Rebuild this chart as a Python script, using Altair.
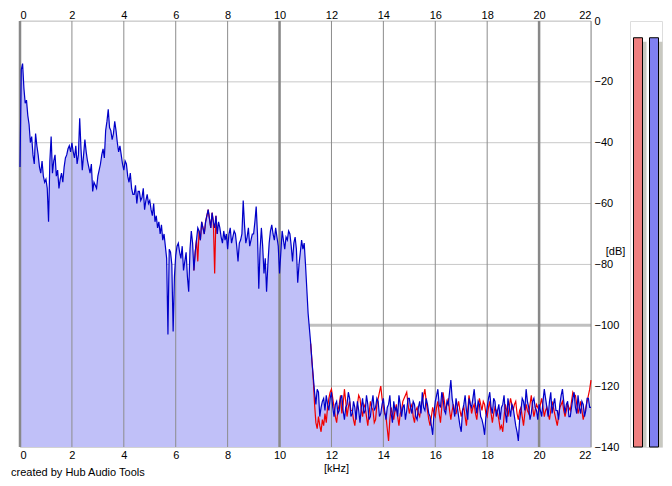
import altair as alt
import pandas as pd

# ---- data ----
# blue channel, 0.00 .. 22.00 kHz every 0.05 kHz (dB)
blue_db = [
    -48, -16, -14, -22, -27, -26, -31, -34, -40, -38,
    -44, -47, -37, -41, -44, -48, -50, -46, -51, -53,
    -52, -55, -66, -46, -38, -50, -46, -44, -51, -49,
    -55, -52, -50, -53, -48, -45, -44, -42, -41, -43,
    -40, -43, -45, -41, -47, -44, -32, -42, -49, -44,
    -39, -43, -46, -48, -50, -47, -56, -53, -54, -55,
    -51, -49, -47, -44, -42, -45, -36, -33, -29, -35,
    -36, -39, -37, -33, -36, -40, -43, -41, -44, -47,
    -49, -46, -47, -51, -53, -50, -55, -57, -57, -54,
    -60, -56, -56, -59, -58, -55, -62, -59, -57, -60,
    -59, -62, -64, -60, -66, -64, -68, -66, -70, -67,
    -72, -70, -74, -78, -103, -75, -76, -80, -102, -84,
    -77, -74, -73, -76, -78, -74, -82, -79, -76, -84,
    -89, -75, -69, -73, -82, -76, -72, -68, -69, -72,
    -66, -68, -70, -66, -64, -62, -65, -68, -63, -66,
    -68, -64, -70, -66, -68, -71, -73, -69, -72, -70,
    -75, -70, -68, -73, -71, -69, -70, -74, -79, -73,
    -72, -70, -59, -67, -73, -71, -68, -74, -72, -70,
    -70, -66, -61, -70, -88, -75, -68, -74, -83, -78,
    -89, -80, -73, -69, -67, -70, -72, -68, -71, -74,
    -83, -76, -69, -72, -75, -71, -72, -69, -70, -74,
    -79, -73, -71, -75, -86, -80, -76, -72, -75, -73,
    -80, -88, -96, -101, -106, -112, -117, -122, -126, -121,
    -122, -130, -127, -125, -124, -128, -123, -126, -128, -124,
    -122, -127, -130, -126, -125, -129, -128, -124, -123, -128,
    -131, -127, -126, -122, -124, -130, -129, -125, -127, -131,
    -125, -128, -132, -127, -124, -129, -128, -123, -126, -131,
    -130, -126, -123, -128, -127, -124, -125, -130, -129, -126,
    -124, -128, -131, -127, -126, -123, -129, -132, -125, -128,
    -127, -130, -123, -126, -130, -127, -126, -131, -128, -124,
    -124, -127, -129, -125, -126, -130, -131, -127, -125, -129,
    -122, -127, -128, -124, -126, -129, -130, -133, -136, -129,
    -125, -123, -121, -126, -127, -122, -124, -128, -129, -125,
    -126, -122, -118, -124, -127, -130, -124, -127, -130, -133,
    -135, -128, -126, -123, -128, -131, -124, -126, -127, -124,
    -121, -126, -129, -125, -126, -130, -131, -133, -136, -130,
    -127, -124, -122, -127, -129, -124, -125, -130, -128, -126,
    -131, -127, -126, -123, -129, -132, -124, -127, -130, -126,
    -127, -130, -133, -135, -138, -131, -128, -124, -125, -128,
    -121, -125, -127, -131, -129, -125, -124, -127, -128, -131,
    -126, -128, -130, -125, -121, -124, -127, -130, -125, -122,
    -129, -126, -124, -128, -128, -131, -126, -123, -121, -125,
    -129, -126, -125, -130, -130, -127, -124, -122, -127, -129,
    -123, -127, -129, -125, -126, -130, -128, -124, -124, -127,
    -127,
]
blue_start_khz = 0.0

# red channel where it departs from blue: 6.70 .. 7.60 kHz and 11.20 .. 22.00 kHz
red_mid_db = [
    -82, -76, -72, -79, -69, -72, -66, -68, -70, -66,
    -64, -62, -65, -68, -63, -66, -83, -64, -70,
]
red_mid_start_khz = 6.7
red_high_db = [
    -106, -112, -118, -126, -132, -134,
    -130, -133, -135, -131, -133, -129, -132, -127, -124, -122,
    -121, -124, -127, -130, -132, -128, -126, -123, -129, -126,
    -121, -125, -130, -127, -125, -128, -128, -131, -133, -129,
    -126, -123, -124, -128, -130, -126, -127, -130, -133, -129,
    -125, -127, -128, -132, -131, -126, -124, -122, -120, -124,
    -127, -129, -130, -134, -138, -131, -127, -129, -131, -128,
    -126, -130, -133, -129, -128, -125, -124, -123, -122, -126,
    -129, -127, -126, -130, -132, -128, -127, -129, -130, -127,
    -125, -123, -121, -125, -128, -131, -133, -130, -127, -129,
    -130, -127, -125, -129, -132, -127, -122, -125, -128, -126,
    -124, -128, -131, -128, -126, -129, -129, -127, -125, -128,
    -130, -128, -127, -130, -133, -128, -123, -126, -129, -127,
    -126, -129, -131, -127, -124, -126, -128, -125, -126, -129,
    -130, -127, -125, -129, -132, -129, -127, -128, -129, -131,
    -134, -133, -135, -130, -126, -128, -130, -127, -124, -126,
    -128, -126, -125, -129, -131, -128, -127, -130, -133, -129,
    -126, -128, -129, -126, -123, -127, -130, -128, -126, -127,
    -128, -126, -124, -127, -130, -128, -127, -129, -131, -128,
    -125, -127, -129, -131, -133, -130, -127, -126, -125, -128,
    -130, -128, -126, -127, -128, -125, -122, -123, -123, -126,
    -129, -127, -125, -128, -131, -129, -127, -125, -123, -121,
    -118,
]
red_high_start_khz = 11.2
bin_khz = 0.05

# level meters (dB)
meter_channels = ["L", "R"]
meter_levels = [-5.5, -5.5]
meter_colors = ["#f08080", "#8080f0"]

x_ticks = list(range(0, 23, 2))
x_heavy = [0, 10, 20]
y_ticks = list(range(0, -141, -20))
y_heavy = [-100]

FONT = "Liberation Sans"


def series(vals, start, name, seg):
    return pd.DataFrame({
        "kHz": [round(start + i * bin_khz, 3) for i in range(len(vals))],
        "dB": vals,
        "ch": name,
        "seg": seg,
    })


blue = series(blue_db, blue_start_khz, "blue", "b")
red = pd.concat([
    series(red_mid_db, red_mid_start_khz, "red", "r1"),
    series(red_high_db, red_high_start_khz, "red", "r2"),
])

xs = alt.Scale(domain=[0, 22], nice=False, zero=False)
ys = alt.Scale(domain=[-140, 0], nice=False, zero=False)

W, H = 571, 426

y_axis = alt.Axis(
    orient="right", values=y_ticks, grid=False, ticks=False, domain=False,
    labelFont=FONT, labelFontSize=11, labelColor="#000", labelPadding=3,
    labelAlign="left", labelBaseline="middle",
    title="[dB]", titleFont=FONT, titleFontSize=11, titleFontWeight="normal",
    titleColor="#000", titleAngle=0, titleX=24, titleY=230,
    titleAlign="center", titleBaseline="middle")

bottom_axis = alt.Axis(
    orient="bottom", values=x_ticks, grid=False, ticks=False, domain=False,
    labelFont=FONT, labelFontSize=11, labelColor="#000", labelPadding=2,
    title="[kHz]", titleFont=FONT, titleFontSize=11, titleFontWeight="normal",
    titleColor="#000", titleX=316, titleY=21, titleBaseline="middle",
    titleAnchor="start", titleAlign="center")

top_axis_def = alt.Axis(
    orient="top", values=x_ticks, grid=False, ticks=False, domain=False,
    labelFont=FONT, labelFontSize=11, labelColor="#000", labelPadding=1,
    title=None)

hgrid = alt.Chart(pd.DataFrame({"dB": y_ticks})).mark_rule(color="#c8c8c8", strokeWidth=1).encode(
    y=alt.Y("dB:Q", scale=ys, axis=y_axis))
hheavy = alt.Chart(pd.DataFrame({"dB": y_heavy})).mark_rule(color="#c0c0c0", strokeWidth=3).encode(
    y=alt.Y("dB:Q", scale=ys, axis=y_axis))

area = alt.Chart(blue).mark_area(color="#c0c0f8", opacity=1).encode(
    x=alt.X("kHz:Q", scale=xs, axis=bottom_axis),
    y=alt.Y("dB:Q", scale=ys, axis=y_axis),
    y2=alt.datum(-140),
)

top_axis = alt.Chart(pd.DataFrame({"kHz": x_ticks})).mark_point(opacity=0).encode(
    x=alt.X("kHz:Q", scale=xs, axis=top_axis_def),
)

vgrid = alt.Chart(pd.DataFrame({"kHz": x_ticks})).mark_rule(color="#8c8c8c", strokeWidth=1).encode(
    x=alt.X("kHz:Q", scale=xs, axis=None))
vheavy = alt.Chart(pd.DataFrame({"kHz": x_heavy})).mark_rule(color="#888888", strokeWidth=2.5).encode(
    x=alt.X("kHz:Q", scale=xs, axis=None))

red_line = alt.Chart(red).mark_line(color="#f00000", strokeWidth=1.2, interpolate="linear").encode(
    x=alt.X("kHz:Q", scale=xs, axis=None),
    y=alt.Y("dB:Q", scale=ys, axis=y_axis),
    detail="seg:N",
)
blue_line = alt.Chart(blue).mark_line(color="#0000c8", strokeWidth=1.2, interpolate="linear").encode(
    x=alt.X("kHz:Q", scale=xs, axis=None),
    y=alt.Y("dB:Q", scale=ys, axis=y_axis),
)

main = alt.layer(
    hgrid, hheavy, area, top_axis, vgrid, vheavy, red_line, blue_line
).resolve_axis(x="independent").properties(
    width=W, height=H,
    title=alt.TitleParams("created by Hub Audio Tools", orient="bottom", anchor="start",
                          frame="group", font=FONT, fontSize=11, fontWeight="normal",
                          color="#000", dx=-9, offset=-6),
)

meters_df = pd.DataFrame({"ch": meter_channels, "level": meter_levels, "col": meter_colors})
mx = alt.X("ch:N", scale=alt.Scale(domain=meter_channels, paddingInner=0, paddingOuter=0), axis=None)
shadow = alt.Chart(meters_df).mark_bar(color="#c8c8c0", size=9, xOffset=4, yOffset=4).encode(
    x=mx, y=alt.Y("level:Q", scale=ys, axis=None), y2=alt.datum(-140))
bars = alt.Chart(meters_df).mark_bar(size=9, stroke="#000", strokeWidth=1).encode(
    x=mx, y=alt.Y("level:Q", scale=ys, axis=None), y2=alt.datum(-140),
    color=alt.Color("col:N", scale=None, legend=None))
meters = alt.layer(shadow, bars).properties(width=32, height=H)

chart = alt.hconcat(main, meters, spacing=39, bounds="flush").properties(
    padding={"left": 2, "top": 0, "right": 0, "bottom": 2}
).configure_view(stroke=None).configure(background="white")

chart.save("out.html", embed_options={"renderer": "svg", "actions": False})
